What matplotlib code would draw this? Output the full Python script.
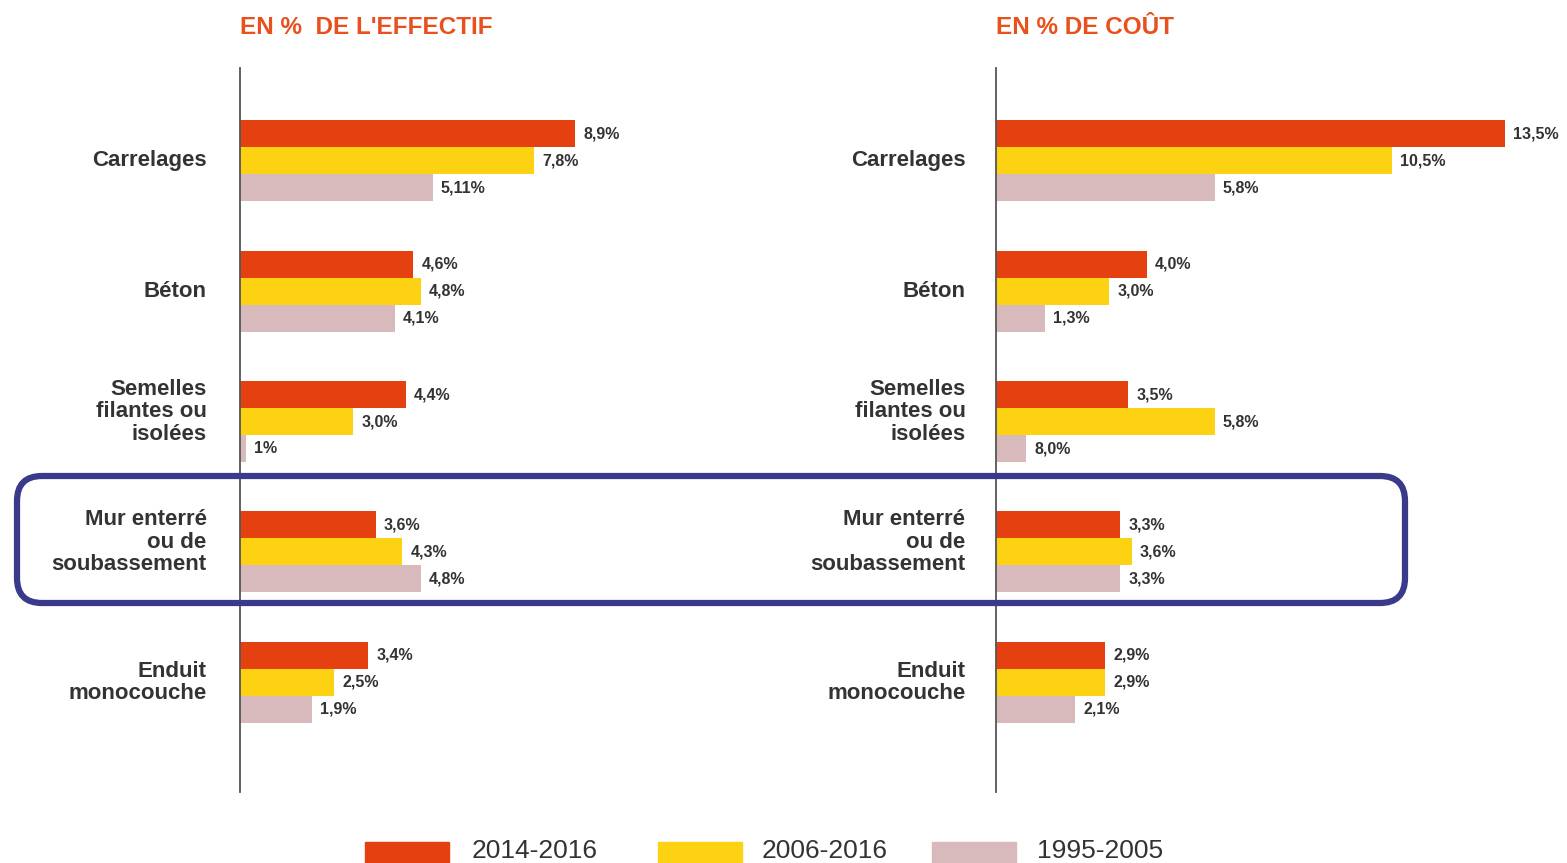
import matplotlib.pyplot as plt
import numpy as np
from matplotlib.patches import FancyBboxPatch, Rectangle

plt.rcParams['font.family'] = ['Liberation Sans', 'DejaVu Sans']

# data
categories = ['Carrelages', 'Béton', 'Semelles\nfilantes ou\nisolées',
              'Mur enterré\nou de\nsoubassement', 'Enduit\nmonocouche']
periods = ['2014-2016', '2006-2016', '1995-2005']
colors = ['#E5400F', '#FDD213', '#D8BABC']

# bar lengths as drawn (the printed labels are kept separately, a few differ)
effectif_2014 = [8.9, 4.6, 4.4, 3.6, 3.4]
effectif_2006 = [7.8, 4.8, 3.0, 4.3, 2.5]
effectif_1995 = [5.11, 4.1, 0.15, 4.8, 1.9]
effectif_labels = [['8,9%', '4,6%', '4,4%', '3,6%', '3,4%'],
                   ['7,8%', '4,8%', '3,0%', '4,3%', '2,5%'],
                   ['5,11%', '4,1%', '1%', '4,8%', '1,9%']]

cout_2014 = [13.5, 4.0, 3.5, 3.3, 2.9]
cout_2006 = [10.5, 3.0, 5.8, 3.6, 2.9]
cout_1995 = [5.8, 1.3, 0.8, 3.3, 2.1]
cout_labels = [['13,5%', '4,0%', '3,5%', '3,3%', '2,9%'],
               ['10,5%', '3,0%', '5,8%', '3,6%', '2,9%'],
               ['5,8%', '1,3%', '8,0%', '3,3%', '2,1%']]

W, H = 1567, 863
fig = plt.figure(figsize=(W / 100, H / 100), dpi=100)
fig.patch.set_facecolor('white')

ax_top, ax_bot = 68, 792
axL = fig.add_axes([240 / W, (H - ax_bot) / H, 571 / W, (ax_bot - ax_top) / H])
axR = fig.add_axes([996 / W, (H - ax_bot) / H, 571 / W, (ax_bot - ax_top) / H])

y = np.arange(len(categories))
bh = 0.207

def draw(ax, series, labels, title, title_x, lab_pad):
    for k, vals in enumerate(series):
        pos = y + (k - 1) * bh
        ax.barh(pos, vals, height=bh, color=colors[k], edgecolor='none')
        for p, v, t in zip(pos, vals, labels[k]):
            ax.annotate(t, (v, p), xytext=(6, 0), textcoords='offset points',
                        va='center', ha='left', fontsize=11.5, fontweight='bold',
                        color='#333333')
    ax.set_xlim(0, 15.15)
    ax.set_ylim(len(categories) - 1 + 0.84, -0.71)
    ax.set_xticks([])
    ax.set_yticks([])
    # category labels, 3-line blocks sit a little above the group centre
    for yi, cat in zip(y, categories):
        dy = 7 if cat.count('\n') == 2 else 0
        ax.annotate(cat, (0, yi), xycoords=('axes fraction', 'data'),
                    xytext=(-lab_pad, dy), textcoords='offset points',
                    ha='right', va='center', fontsize=16, fontweight='bold',
                    color='#333333', linespacing=1.1)
    for s in ['top', 'right', 'bottom']:
        ax.spines[s].set_visible(False)
    ax.spines['left'].set_color('#555555')
    ax.spines['left'].set_linewidth(1.3)
    fig.text(title_x / W, (H - 27) / H, title, color='#E8501E', fontsize=17.5,
             fontweight='bold', ha='left', va='center')

draw(axL, [effectif_2014, effectif_2006, effectif_1995], effectif_labels,
     "EN %  DE L'EFFECTIF", 240, 24)
draw(axR, [cout_2014, cout_2006, cout_1995], cout_labels,
     "EN % DE COÛT", 996, 22)

# highlight box
box = FancyBboxPatch((17 / 100, (H - 603) / 100), 1388 / 100, 127 / 100,
                     boxstyle='round,pad=0,rounding_size=0.25',
                     transform=fig.dpi_scale_trans, fill=False,
                     edgecolor='#3B3A8A', linewidth=4.5, zorder=10)
fig.add_artist(box)

# legend
leg_x = [365, 658, 932]
txt_x = [472, 762, 1037]
for lx, tx, c, p in zip(leg_x, txt_x, colors, periods):
    fig.add_artist(Rectangle((lx / 100, (H - 875) / 100), 84 / 100, 33 / 100,
                             transform=fig.dpi_scale_trans, color=c))
    fig.text(tx / W, 0.5 / H, p, fontsize=19, color='#333333',
             ha='left', va='bottom')

fig.savefig('out.png', dpi=100)
